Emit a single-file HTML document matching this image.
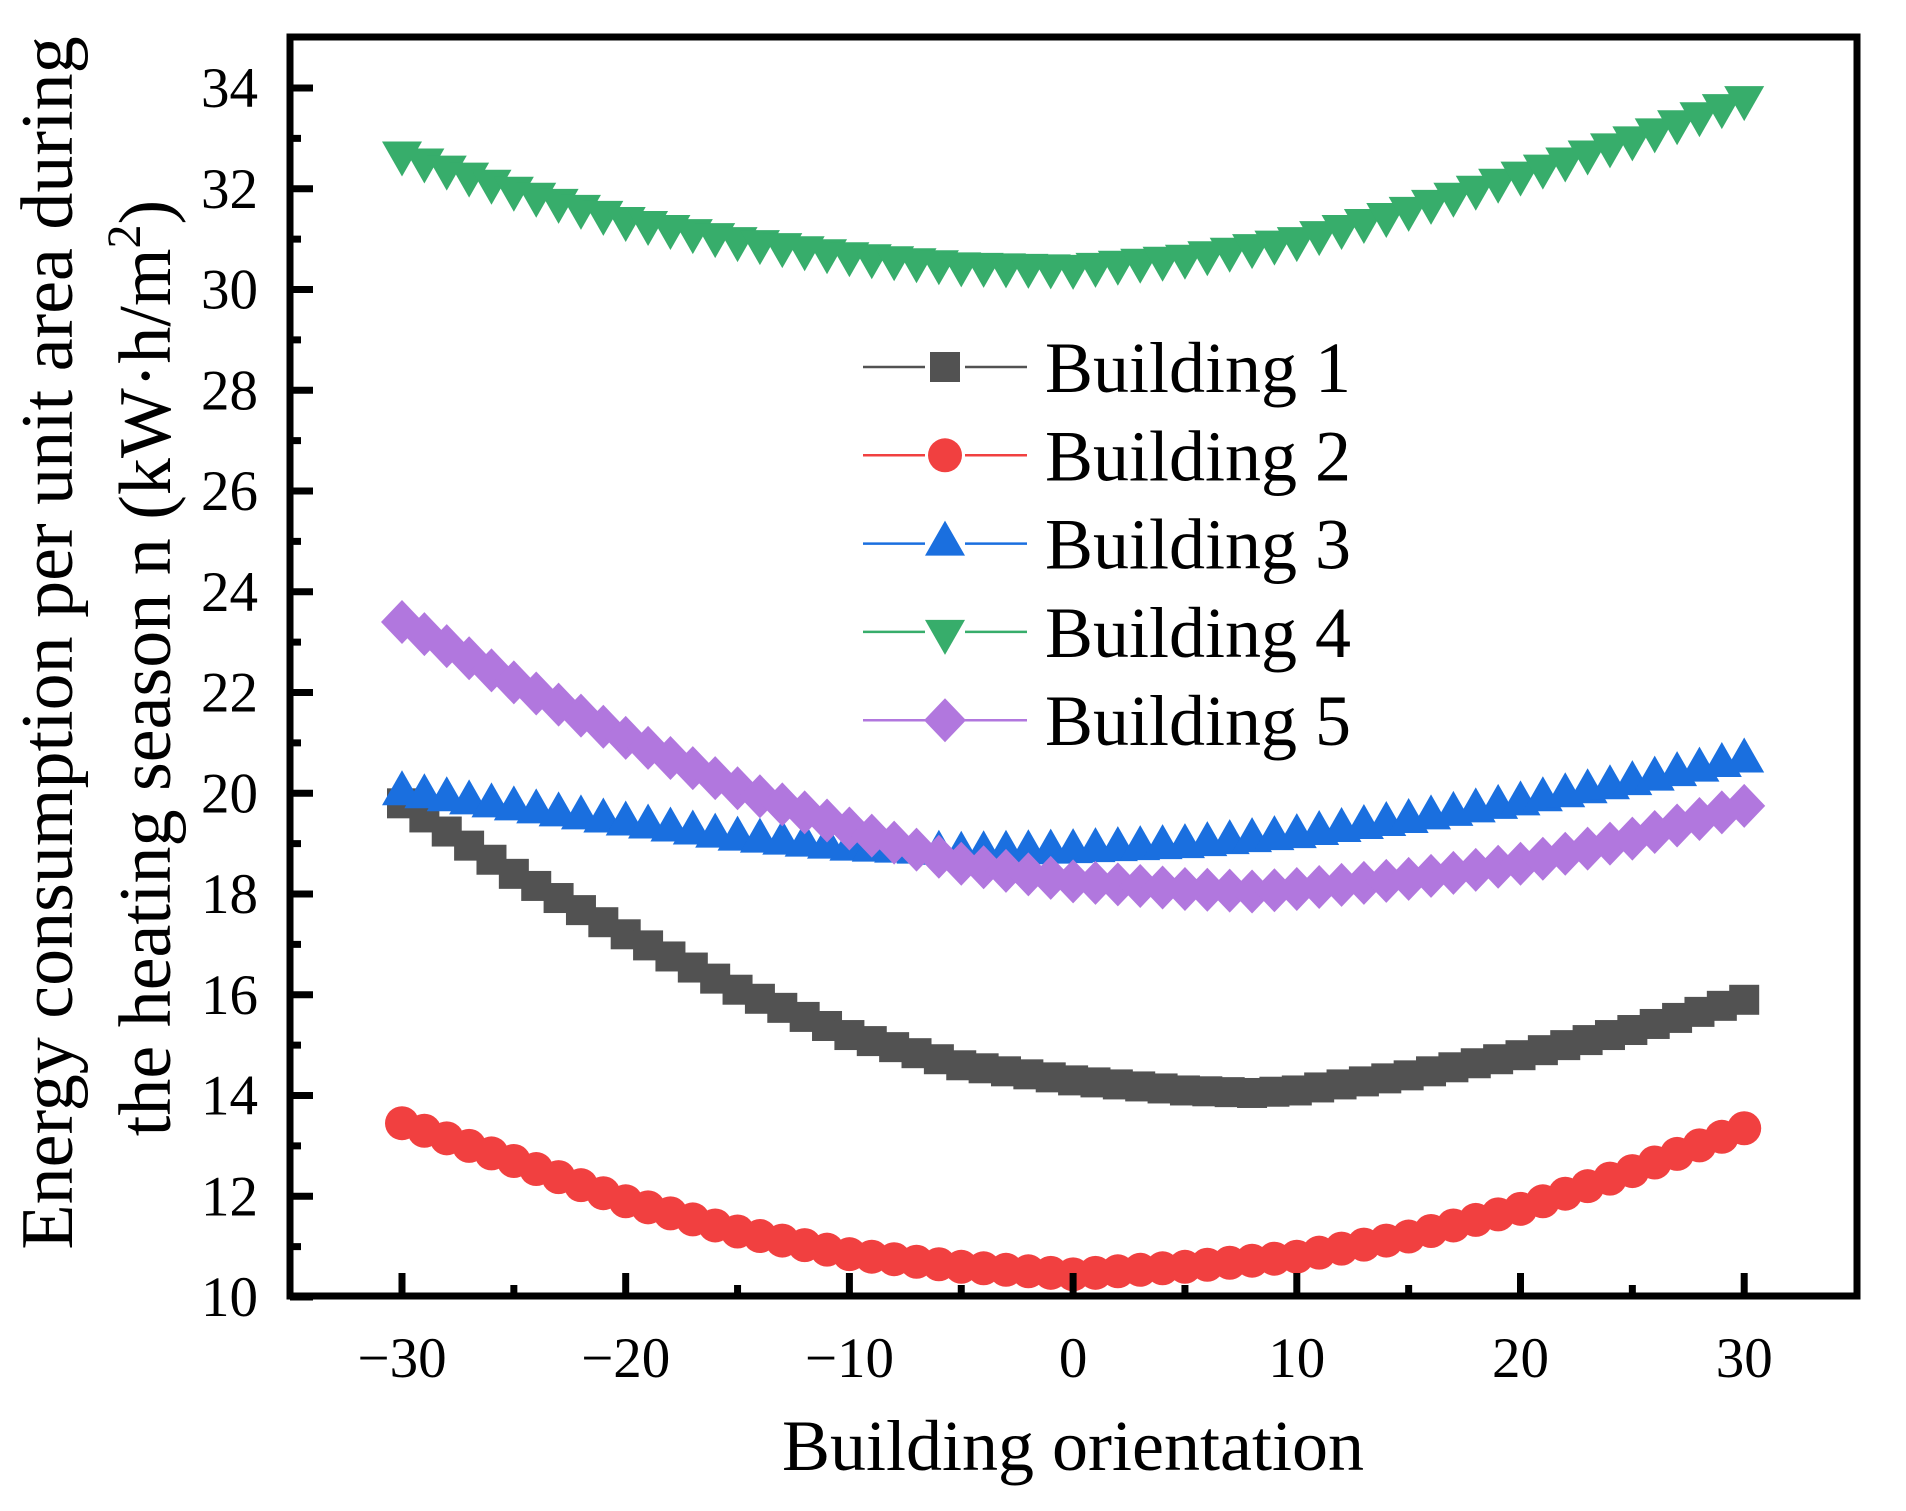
<!DOCTYPE html>
<html><head><meta charset="utf-8"><style>
html,body{margin:0;padding:0;background:#fff;}
svg{display:block;}
text{font-family:"Liberation Serif",serif;fill:#000;}
</style></head><body>
<svg id="s" width="1906" height="1511" viewBox="0 0 1906 1511" xmlns="http://www.w3.org/2000/svg">
<rect width="1906" height="1511" fill="#fff"/>
<g id="series"></g>
<rect x="290" y="37" width="1567" height="1259" fill="none" stroke="#000" stroke-width="7"/>
<g id="ticks" stroke="#000" stroke-width="7"></g>
<g id="labels" font-size="57"></g>
<text x="1073" y="1470" font-size="72" text-anchor="middle">Building orientation</text>
<text transform="translate(72,643) rotate(-90)" font-size="74" text-anchor="middle">Energy consumption per unit area during</text>
<text transform="translate(170,668) rotate(-90)" font-size="74" text-anchor="middle">the heating season n (kW·h/m<tspan font-size="48" dy="-30">2</tspan><tspan dy="30">)</tspan></text>
<g id="legend"></g>
</svg>
<script>
const NS="http://www.w3.org/2000/svg";
function X(v){return 402+(v+30)*22.37;}
function Y(v){return 88+(34-v)*50.375;}
function el(t,a,p){const e=document.createElementNS(NS,t);for(const k in a)e.setAttribute(k,a[k]);p.appendChild(e);return e;}
const ticks=document.getElementById('ticks'),labels=document.getElementById('labels');
for(let v=-35;v<=35;v+=5){const x=X(v);if(x<292||x>1855)continue;const maj=v%10===0;
 el('line',{x1:x,y1:1296,x2:x,y2:1296-(maj?23:11)},ticks);
 if(maj){const t=el('text',{x:x,y:1377,'text-anchor':'middle'},labels);t.textContent=(v<0?'\u2212':'')+Math.abs(v);}}
for(let v=10;v<=35;v+=1){const y=Y(v);if(y<40)continue;const maj=v%2===0;
 el('line',{x1:290,y1:y,x2:290+(maj?23:11),y2:y},ticks);
 if(maj){const t=el('text',{x:258,y:y+19,'text-anchor':'end'},labels);t.textContent=v;}}
const data=[
 {c:'#525252',m:'sq',k:[[-30,19.8],[-25,18.4],[-20,17.2],[-15,16.1],[-10,15.2],[-5,14.6],[0,14.3],[5,14.1],[8,14.05],[10,14.1],[15,14.4],[20,14.8],[25,15.3],[30,15.9]]},
 {c:'#F14040',m:'ci',k:[[-30,13.45],[-25,12.7],[-20,11.9],[-15,11.3],[-10,10.85],[-5,10.6],[0,10.45],[5,10.6],[10,10.8],[15,11.2],[20,11.75],[25,12.5],[30,13.35]]},
 {c:'#1A6FDF',m:'up',k:[[-30,20.0],[-25,19.7],[-20,19.4],[-15,19.1],[-10,18.9],[-5,18.8],[0,18.85],[5,18.95],[10,19.15],[15,19.45],[20,19.8],[25,20.2],[30,20.65]]},
 {c:'#37AD6B',m:'dn',k:[[-30,32.7],[-25,32.0],[-20,31.4],[-15,31.0],[-10,30.7],[-5,30.5],[0,30.45],[5,30.65],[10,31.0],[15,31.6],[20,32.3],[25,33.0],[30,33.8]]},
 {c:'#B177DE',m:'di',k:[[-30,23.4],[-25,22.2],[-20,21.1],[-15,20.1],[-10,19.3],[-5,18.6],[0,18.25],[5,18.1],[8,18.05],[10,18.1],[15,18.3],[20,18.6],[25,19.1],[30,19.75]]}];
function interp(k,x){for(let i=0;i<k.length-1;i++){if(x>=k[i][0]&&x<=k[i+1][0]){const t=(x-k[i][0])/(k[i+1][0]-k[i][0]);return k[i][1]+t*(k[i+1][1]-k[i][1]);}}return k[k.length-1][1];}
function marker(m,x,y,c,p){
 if(m==='sq')el('rect',{x:x-15,y:y-15,width:30,height:30,fill:c},p);
 else if(m==='ci')el('circle',{cx:x,cy:y,r:17,fill:c},p);
 else if(m==='up')el('polygon',{points:`${x-20},${y+12} ${x+20},${y+12} ${x},${y-23}`,fill:c},p);
 else if(m==='dn')el('polygon',{points:`${x-20},${y-12} ${x+20},${y-12} ${x},${y+23}`,fill:c},p);
 else el('polygon',{points:`${x},${y-22} ${x+21},${y} ${x},${y+22} ${x-21},${y}`,fill:c},p);}
const sg=document.getElementById('series');
data.forEach(d=>{const g=el('g',{},sg);let pts=[];for(let v=-30;v<=30;v++)pts.push([X(v),Y(interp(d.k,v))]);
 el('polyline',{points:pts.map(p=>p.join(',')).join(' '),fill:'none',stroke:d.c,'stroke-width':2},g);
 pts.forEach(p=>marker(d.m,p[0],p[1],d.c,g));});
const lg=document.getElementById('legend');
data.forEach((d,i)=>{const y=367+i*88.3;
 el('line',{x1:863,y1:y,x2:925,y2:y,stroke:d.c,'stroke-width':2.5},lg);
 el('line',{x1:965,y1:y,x2:1027,y2:y,stroke:d.c,'stroke-width':2.5},lg);
 marker(d.m,945,y,d.c,lg);
 const t=el('text',{x:1045,y:y+25,'font-size':72},lg);t.textContent='Building '+(i+1);});
</script>
</body></html>
